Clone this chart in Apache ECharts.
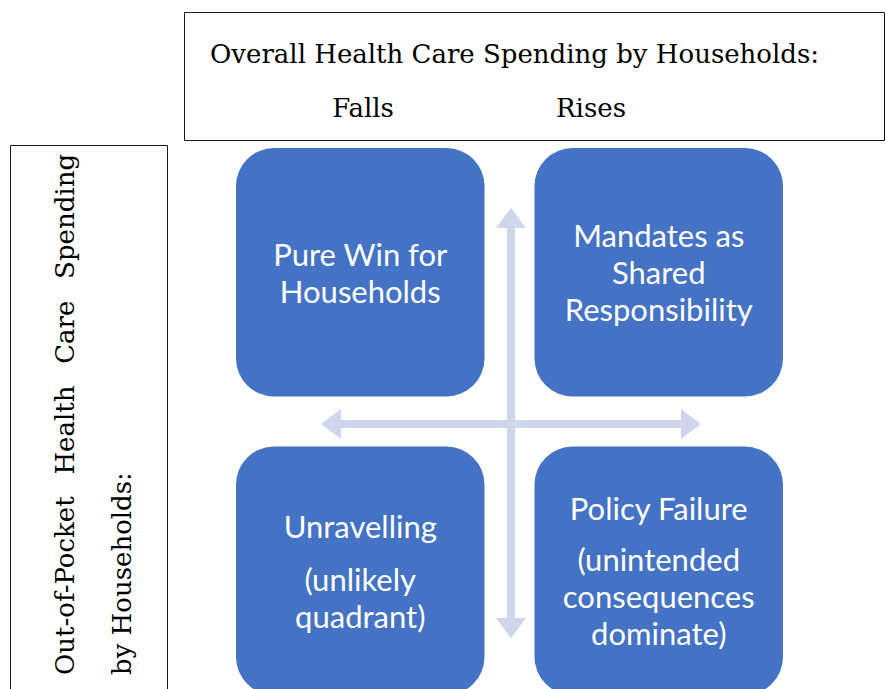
<!DOCTYPE html>
<html>
<head>
<meta charset="utf-8">
<script src="https://cdn.jsdelivr.net/npm/echarts@6/dist/echarts.min.js"></script>
<style>
  html, body { margin: 0; padding: 0; background: #fff; }
  #chart { width: 886px; height: 689px; }
</style>
</head>
<body>
<div id="chart"></div>
<script>
// axis categories
const overallSpending = ['Falls', 'Rises'];          // columns, left to right
const outOfPocketSpending = ['Rises', 'Falls'];      // rows, bottom to top

// quadrants
const quadrantOverall = ['Falls', 'Rises', 'Falls', 'Rises'];
const quadrantOutOfPocket = ['Falls', 'Falls', 'Rises', 'Rises'];
const quadrantLabels = [
  'Pure Win for\nHouseholds',
  'Mandates as\nShared\nResponsibility',
  'Unravelling\n{g| }\n(unlikely\nquadrant)',
  'Policy Failure\n{p| }\n(unintended\nconsequences\ndominate)'
];

const headerTitle = 'Overall Health Care Spending by Households:';
const sideTitle = ['Out-of-Pocket  \u2009Health  \u2009Care  \u2009Spending', 'by Households:'];

const arrows = ['vertical', 'horizontal'];

const serif = '26px "DejaVu Serif"';
const boxBlue = '#4472C4';
const arrowColor = '#CFD5EA';

const chart = echarts.init(document.getElementById('chart'), null, { renderer: 'svg' });

function arrowPoints(dir, cx, cy) {
  const shaft = 4, head = 15, headLen = 20;
  if (dir === 'vertical') {
    const t = cy - 216, b = cy + 214;
    return [
      [cx, t], [cx + head, t + headLen], [cx + shaft, t + headLen],
      [cx + shaft, b - headLen], [cx + head, b - headLen], [cx, b],
      [cx - head, b - headLen], [cx - shaft, b - headLen],
      [cx - shaft, t + headLen], [cx - head, t + headLen]
    ];
  }
  const l = cx - 190, r = cx + 190;
  return [
    [l, cy], [l + headLen, cy - head], [l + headLen, cy - shaft],
    [r - headLen, cy - shaft], [r - headLen, cy - head], [r, cy],
    [r - headLen, cy + head], [r - headLen, cy + shaft],
    [l + headLen, cy + shaft], [l + headLen, cy + head]
  ];
}

const option = {
  animation: false,
  backgroundColor: '#fff',
  grid: { left: 211, top: 123, width: 597, height: 597, outerBoundsMode: 'none' },
  xAxis: { type: 'category', data: overallSpending, show: false },
  yAxis: { type: 'category', data: outOfPocketSpending, show: false },
  graphic: [
    {
      type: 'rect',
      shape: { x: 184.5, y: 12.5, width: 700, height: 128 },
      style: { fill: '#fff', stroke: '#1a1a1a', lineWidth: 1 },
      z: 10
    },
    {
      type: 'text', x: 210, y: 54, z: 11,
      style: { text: headerTitle, font: serif, fill: '#000', align: 'left', verticalAlign: 'middle' }
    },
    {
      type: 'text', x: 363, y: 108, z: 11,
      style: { text: overallSpending[0], font: serif, fill: '#000', align: 'center', verticalAlign: 'middle' }
    },
    {
      type: 'text', x: 591, y: 108, z: 11,
      style: { text: overallSpending[1], font: serif, fill: '#000', align: 'center', verticalAlign: 'middle' }
    },
    {
      type: 'rect',
      shape: { x: 10.5, y: 145.5, width: 157, height: 560 },
      style: { fill: '#fff', stroke: '#1a1a1a', lineWidth: 1 },
      z: 10
    },
    {
      type: 'text', x: 65, y: 675, rotation: Math.PI / 2, z: 11,
      style: { text: sideTitle[0], font: serif, fill: '#000', align: 'left', verticalAlign: 'middle' }
    },
    {
      type: 'text', x: 122, y: 675, rotation: Math.PI / 2, z: 11,
      style: { text: sideTitle[1], font: serif, fill: '#000', align: 'left', verticalAlign: 'middle' }
    }
  ],
  series: [
    {
      type: 'custom',
      name: 'arrows',
      data: arrows.map((d, i) => [i]),
      renderItem: (params, api) => {
        const cs = params.coordSys;
        const cx = cs.x + cs.width / 2 + 1.5;
        const cy = cs.y + cs.height / 2 + 2.5;
        return {
          type: 'polygon',
          shape: { points: arrowPoints(arrows[params.dataIndex], cx, cy) },
          style: { fill: arrowColor }
        };
      },
      silent: true,
      z: 1
    },
    {
      type: 'custom',
      name: 'quadrants',
      encode: { x: 0, y: 1 },
      data: quadrantOverall.map((x, i) => [x, quadrantOutOfPocket[i]]),
      renderItem: (params, api) => {
        const c = api.coord([api.value(0), api.value(1)]);
        const size = api.size([1, 1]);
        const w = size[0] - 50;
        const h = size[1] - 50;
        return {
          type: 'rect',
          shape: { x: c[0] - w / 2, y: c[1] - h / 2, width: w, height: h, r: 38 },
          style: { fill: boxBlue },
          textContent: {
            style: {
              text: quadrantLabels[params.dataIndex],
              fill: '#fff',
              fontFamily: 'Lato',
              fontSize: 31,
              lineHeight: 37,
              align: 'center',
              verticalAlign: 'middle',
              rich: {
                g: { fontSize: 10, lineHeight: 16 },
                p: { fontSize: 10, lineHeight: 14 }
              }
            }
          },
          textConfig: { position: 'inside' }
        };
      },
      z: 2
    }
  ]
};

chart.setOption(option);
</script>
</body>
</html>
